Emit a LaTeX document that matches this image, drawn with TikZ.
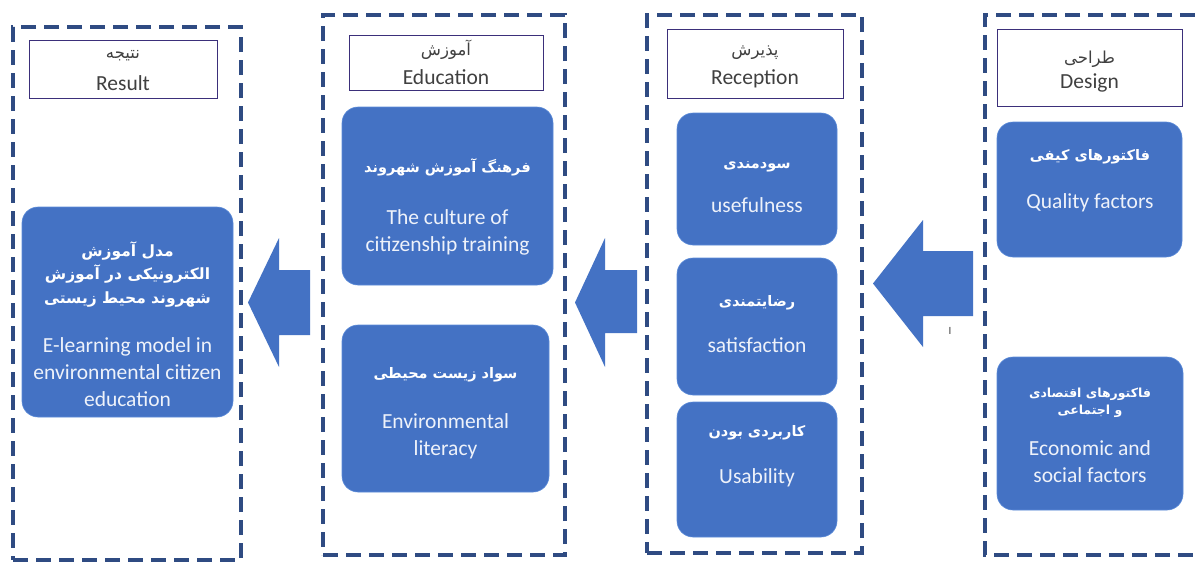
\documentclass[tikz,border=0pt]{standalone}
\usepackage{fontspec}
\setmainfont{Carlito}
\newfontfamily\fa[Script=Arabic]{DejaVu Sans}
\TeXXeTstate=1
\usetikzlibrary{fit}
\definecolor{framecol}{HTML}{2F4B82}
\definecolor{boxblue}{HTML}{4472C4}
\definecolor{boxedge}{HTML}{5B8BD8}
\definecolor{hdredge}{HTML}{3B2F7A}
\definecolor{hdrtext}{HTML}{404040}
\definecolor{entext}{HTML}{EEF2FA}
\begin{document}
\begin{tikzpicture}[x=1pt,y=-1pt,
 frameline/.style={draw=framecol, line width=4.5pt, dash pattern=on 15pt off 8pt, inner sep=0pt, outer sep=0pt},
 hdr/.style={draw=hdredge, line width=0.9pt, fill=white, inner sep=0pt, outer sep=0pt},
 bbox/.style={fill=boxblue, draw=boxedge, line width=0.6pt, rounded corners=16pt, inner sep=0pt, outer sep=0pt},
 arrowfill/.style={fill=boxblue},
 en/.style={font=\fontsize{21.5}{27}\selectfont, text=entext, align=center, inner sep=0pt},
 fab/.style={font=\fa\bfseries\fontsize{14.5}{23.5}\selectfont, text=white, align=center, inner sep=0pt},
 fabl/.style={font=\fa\bfseries\fontsize{15.5}{23.5}\selectfont, text=white, align=center, inner sep=0pt},
 fabs/.style={font=\fa\bfseries\fontsize{12.5}{17}\selectfont, text=white, align=center, inner sep=0pt},
 hfa/.style={font=\fa\fontsize{16.5}{17}\selectfont, text=hdrtext, inner sep=0pt},
 hen/.style={font=\fontsize{21.5}{22}\selectfont, text=hdrtext, inner sep=0pt}]
\useasboundingbox (0,0) rectangle (1195,565);
\fill[white] (0,0) rectangle (1195,565);
\clip (0,0) rectangle (1195,565);

% dashed frames
\node[frameline, fit={(13,27) (241,560)}] (fr1) {};
\node[frameline, fit={(323,15) (565,555)}] (fr2) {};
\node[frameline, fit={(647,15) (862,553)}] (fr3) {};
\coordinate (fr4a) at (1195,15);
\coordinate (fr4b) at (1195,555);
\draw[frameline] (fr4a) -- (985,15) -- (985,555) -- (fr4b);

% header boxes
\node[hdr, fit={(29,40) (217,98)}] (h1) {};
\node[hdr, fit={(349,35) (543,90)}] (h2) {};
\node[hdr, fit={(667,29) (843,98)}] (h3) {};
\node[hdr, fit={(997,29) (1182,106)}] (h4) {};

\node[hfa] (h1fa) at (123,56) {\beginR نتیجه\endR};
\node[hen] (h1en) at (123,83) {Result};
\node[hfa] (h2fa) at (446,50) {\beginR آموزش\endR};
\node[hen] (h2en) at (446,77) {Education};
\node[hfa] (h3fa) at (755,53) {\beginR پذیرش\endR};
\node[hen] (h3en) at (755,79) {Reception};
\node[hfa] (h4fa) at (1089.5,59) {\beginR طراحی\endR};
\node[hen] (h4en) at (1089.5,83) {Design};

% blue boxes
\node[bbox, fit={(22,207) (233,417)}] (b1) {};
\node[bbox, fit={(342,107) (553,285)}] (b2) {};
\node[bbox, fit={(342,325) (549,492)}] (b3) {};
\node[bbox, fit={(677,113) (837,245)}] (b4) {};
\node[bbox, fit={(677,258) (837,395)}] (b5) {};
\node[bbox, fit={(677,402) (837,537)}] (b6) {};
\node[bbox, fit={(997,122) (1182,257)}] (b7) {};
\node[bbox, fit={(997,357) (1183,510)}] (b8) {};

% box texts
\node[fabl] (b1fa) at (127.5,274) {\beginR مدل آموزش\endR\\\beginR الکترونیکی در آموزش\endR\\\beginR شهروند محیط زیستی\endR};
\node[en] (b1en) at (127.5,372) {E-learning model in\\environmental citizen\\education};
\node[fab] (b2fa) at (447.5,167) {\beginR فرهنگ آموزش شهروند\endR};
\node[en] (b2en) at (447.5,232.5) {The culture of\\citizenship training};
\node[fab] (b3fa) at (445.5,375) {\beginR سواد زیست محیطی\endR};
\node[en] (b3en) at (445.5,436.5) {Environmental\\literacy};
\node[fab] (b4fa) at (757,167) {\beginR سودمندی\endR};
\node[en] (b4en) at (757,205) {usefulness};
\node[fab] (b5fa) at (757,303) {\beginR رضایتمندی\endR};
\node[en] (b5en) at (757,345) {satisfaction};
\node[fab] (b6fa) at (757,433) {\beginR کاربردی بودن\endR};
\node[en] (b6en) at (757,478) {Usability};
\node[fab] (b7fa) at (1090,157) {\beginR فاکتورهای کیفی\endR};
\node[en] (b7en) at (1090,203) {Quality factors};
\node[fabs] (b8fa) at (1090,403) {\beginR فاکتورهای اقتصادی\endR\\\beginR و اجتماعی\endR};
\node[en] (b8en) at (1090,461.5) {Economic and\\social factors};

% block arrows
\fill[arrowfill] (248,302.5) -- (279,238) -- (279,270) -- (310,270) -- (310,335) -- (279,335) -- (279,367) -- cycle;
\fill[arrowfill] (575,302.5) -- (605,238) -- (605,270) -- (637,270) -- (637,333) -- (605,333) -- (605,367) -- cycle;
\fill[arrowfill] (873,283.5) -- (923,220) -- (923,251) -- (973,251) -- (973,316) -- (923,316) -- (923,347) -- cycle;

\node[font=\fontsize{11}{12}\selectfont, text=hdrtext, inner sep=0pt] (mark) at (950,331) {I};
\end{tikzpicture}
\end{document}
